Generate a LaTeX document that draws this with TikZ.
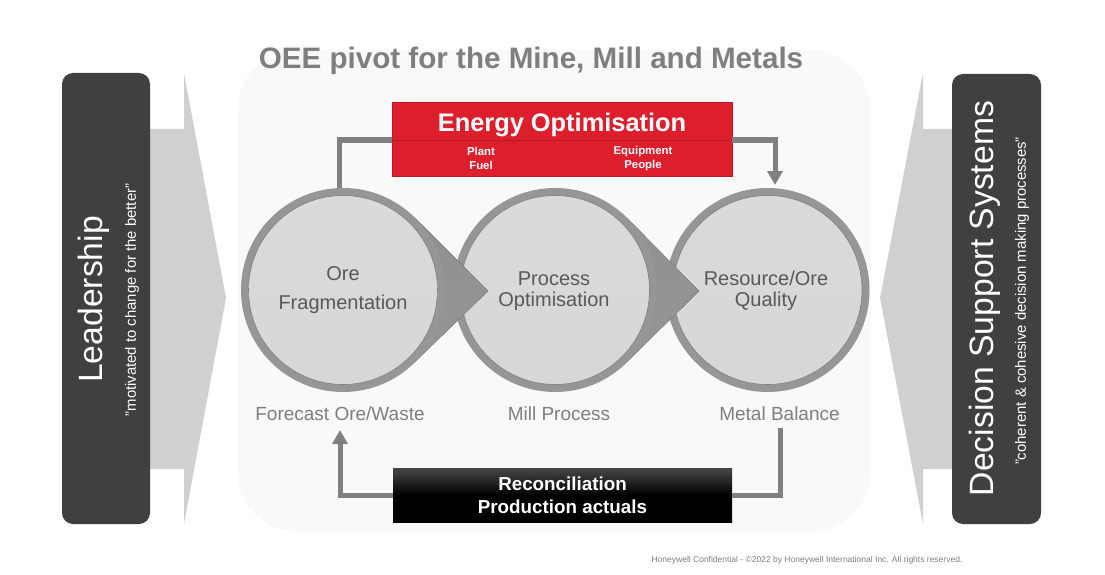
\documentclass[tikz,border=0pt]{standalone}
\usepackage{fontspec}
\setmainfont{Liberation Sans}
\usetikzlibrary{arrows.meta}
\definecolor{panelgray}{HTML}{F9F9F9}
\definecolor{darkbox}{HTML}{404040}
\definecolor{bigarrow}{HTML}{D0D0D0}
\definecolor{ringgray}{HTML}{969696}
\definecolor{innergray}{HTML}{DADADA}
\definecolor{innerlow}{HTML}{D7D7D7}
\definecolor{redbox}{HTML}{DC1E2D}
\definecolor{redline}{HTML}{B51C28}
\definecolor{txtdark}{HTML}{595959}
\definecolor{txtmid}{HTML}{7F7F7F}
\definecolor{conn}{HTML}{808080}
\tikzset{
  x=1pt,y=-1pt,
  ring/.style={circle,fill=ringgray,inner sep=0pt,outer sep=0pt,minimum size=204pt},
  inner disc/.style={circle,top color=innergray,bottom color=innerlow,draw=txtmid,line width=.6pt,inner sep=0pt,outer sep=0pt,minimum size=189pt},
  disc text/.style={inner sep=0pt,align=center,text=txtdark,font=\fontsize{20}{21.5}\selectfont},
  tear/.style={top color=ringgray!96!black,bottom color=ringgray},
  darkpanel/.style={fill=darkbox,rounded corners=11pt},
  bigarr/.style={fill=bigarrow},
  sidebig/.style={rotate=90,text=white,font=\fontsize{33.7}{38}\selectfont,inner sep=0pt},
  sidesmall/.style={rotate=90,text=white,font=\fontsize{14.9}{17}\selectfont,inner sep=0pt},
  caption/.style={text=txtmid,font=\fontsize{19}{22}\selectfont,inner sep=0pt},
  conline/.style={draw=conn,line width=5pt},
  conarrow/.style={conline,-{Triangle[width=15pt,length=14pt]}},
  smallred/.style={text=white,font=\bfseries\fontsize{11.4}{14}\selectfont,align=center,inner sep=0pt},
}
\begin{document}
\begin{tikzpicture}
\useasboundingbox[fill=white] (0,0) rectangle (1105,575);
% centre panel
\fill[panelgray,rounded corners=62pt] (237,50) rectangle (871,532);
% big arrows
\fill[bigarr] (150,129) -- (184,129) -- (184,73) -- (226,298) -- (184,524) -- (184,469) -- (150,469) -- cycle;
\fill[bigarr] (952,129) -- (923,129) -- (923,73) -- (880,298) -- (923,524) -- (923,469) -- (952,469) -- cycle;
% side panels
\fill[darkpanel] (62,73) rectangle (150,524);
\fill[darkpanel] (952,74) rectangle (1041,524);
\node[sidebig] (lead) at (93.5,299.5) {Leadership};
\node[sidesmall] (leadq) at (132,300) {"motivated to change for the better"};
\node[sidebig] (dss) at (985,298.5) {Decision Support Systems};
\node[sidesmall] (dssq) at (1022,301) {"coherent \& cohesive decision making processes"};
% title
\node[inner sep=0pt,text=txtmid,font=\bfseries\fontsize{29.6}{33}\selectfont] (title) at (531,60.5) {OEE pivot for the Mine, Mill and Metals};
% circles
\node[ring] (c3) at (767.5,290) {};
\node[inner disc] (d3) at (767.5,290) {};
\node[disc text] (t3) at (766,291) {Resource/Ore\\Quality};
\fill[tear] (555,290) -- (627,218) -- (699,291) -- (627,362) -- cycle;
\node[ring] (c2) at (555,290) {};
\node[inner disc] (d2) at (555,290) {};
\node[disc text] (t2) at (554,291) {Process\\Optimisation};
\fill[tear] (343,290) -- (415,218) -- (488,291) -- (415,362) -- cycle;
\node[ring] (c1) at (343,290) {};
\node[inner disc] (d1) at (343,290) {};
\node[disc text,font=\fontsize{20}{29}\selectfont] (t1) at (343,290) {Ore\\Fragmentation};
% captions
\node[caption] (forecast) at (340,414) {Forecast Ore/Waste};
\node[caption] (mill) at (559,414) {Mill Process};
\node[caption] (metal) at (779.5,414) {Metal Balance};
% boxes
\node[fill=redbox,draw=redbox!85!black,line width=.4pt,minimum width=340pt,minimum height=74pt,inner sep=0pt,outer sep=0pt] (energy) at (562,139) {};
\draw[redline,line width=1pt] ([yshift=-1pt]energy.west) -- ([yshift=-1pt]energy.east);
\node[inner sep=0pt,text=white,font=\bfseries\fontsize{25.4}{28}\selectfont] (energyt) at (562,124.5) {Energy Optimisation};
\node[smallred] (pf) at (481,158.5) {Plant\\Fuel};
\node[smallred] (ep) at (643,158.5) {Equipment\\People};
\node[top color=black!72,bottom color=black,middle color=black,minimum width=339pt,minimum height=54pt,inner sep=0pt,outer sep=0pt,align=center,text=white,font=\bfseries\fontsize{18.8}{23}\selectfont] (recon) at (562.5,495) {Reconciliation\\Production actuals};
% connectors
\coordinate (ctop) at (339,188);
\coordinate (ctarget) at (775,185);
\coordinate (btarget) at (340,430);
\coordinate (bstart) at (780,428);
\draw[conline] (ctop) |- ([yshift=-1pt]energy.west);
\draw[conarrow] ([yshift=-1pt]energy.east) -| (ctarget);
\draw[conline] (bstart) |- (recon.east);
\draw[conarrow] (recon.west) -| (btarget);
% footer
\node[inner sep=0pt,text=txtmid,font=\fontsize{8.5}{10}\selectfont] (foot) at (807,560) {Honeywell Confidential - ©2022 by Honeywell International Inc. All rights reserved.};
\end{tikzpicture}
\end{document}
